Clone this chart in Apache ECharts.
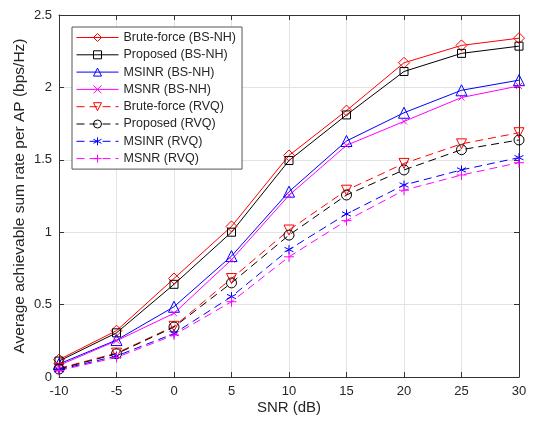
<!DOCTYPE html>
<html>
<head>
<meta charset="utf-8">
<script src="https://cdn.jsdelivr.net/npm/echarts@6/dist/echarts.min.js"></script>
<style>
  html, body { margin: 0; padding: 0; background: #fff; }
  #chart { width: 534px; height: 422px; }
</style>
</head>
<body>
<div id="chart"></div>
<script>
// SNR points (dB)
const snr = [-10, -5, 0, 5, 10, 15, 20, 25, 30];
// sum rate per AP (bps/Hz)
const bruteBS = [0.12, 0.32, 0.68, 1.04, 1.53, 1.84, 2.17, 2.29, 2.34];
const propBS = [0.11, 0.305, 0.64, 1.00, 1.495, 1.81, 2.11, 2.235, 2.285];
const msinrBS = [0.09, 0.255, 0.485, 0.835, 1.28, 1.63, 1.825, 1.98, 2.05];
const msnrBS = [0.08, 0.25, 0.44, 0.81, 1.255, 1.60, 1.765, 1.93, 2.01];
const bruteRVQ = [0.06, 0.165, 0.35, 0.68, 1.015, 1.29, 1.475, 1.61, 1.687];
const propRVQ = [0.055, 0.16, 0.345, 0.65, 0.98, 1.257, 1.43, 1.57, 1.637];
const msinrRVQ = [0.05, 0.145, 0.30, 0.555, 0.88, 1.126, 1.326, 1.43, 1.515];
const msnrRVQ = [0.045, 0.135, 0.29, 0.52, 0.83, 1.08, 1.29, 1.395, 1.48];
const names = [
  'Brute-force (BS-NH)', 'Proposed (BS-NH)', 'MSINR (BS-NH)', 'MSNR (BS-NH)',
  'Brute-force (RVQ)', 'Proposed (RVQ)', 'MSINR (RVQ)', 'MSNR (RVQ)'
];

const xMark = 'path://M0,0L10,10M0,10L10,0';
const plusMark = 'path://M5,0L5,10M0,5L10,5';
const starMark = 'path://M5,0L5,10M0.67,2.5L9.33,7.5M0.67,7.5L9.33,2.5';

const font = 'Liberation Sans, Arial, sans-serif';
const txt = '#262626';
const axCol = '#333';

const chart = echarts.init(document.getElementById('chart'));

// one line series, hollow markers like matlab
const mk = (name, data, color, dashed, symbol, size, rotate) => ({
  name: name,
  type: 'line',
  data: data.map((v, i) => [snr[i], v]),
  symbol: symbol,
  symbolSize: size,
  symbolRotate: rotate || 0,
  showAllSymbol: true,
  clip: false,
  z: 3,
  lineStyle: { color: color, width: 1, type: dashed ? [8, 5] : 'solid' },
  itemStyle: { color: 'transparent', borderColor: color, borderWidth: 1 },
  emphasis: { disabled: true }
});

const series = [
  mk(names[0], bruteBS, '#ff0000', false, 'diamond', 11),
  mk(names[1], propBS, '#000000', false, 'rect', 8),
  mk(names[2], msinrBS, '#0000ff', false, 'triangle', 11),
  mk(names[3], msnrBS, '#ff00ff', false, xMark, 6),
  mk(names[4], bruteRVQ, '#ff0000', true, 'triangle', 10, 180),
  mk(names[5], propRVQ, '#000000', true, 'circle', 10),
  mk(names[6], msinrRVQ, '#0000ff', true, starMark, 9),
  mk(names[7], msnrRVQ, '#ff00ff', true, plusMark, 10)
];

// box axes (top / right) only carry inward ticks
const frame = {
  axisLine: { show: true, onZero: false, lineStyle: { color: axCol, width: 1 } },
  axisTick: { show: true, inside: true, length: 5, lineStyle: { color: axCol } },
  axisLabel: { show: false },
  splitLine: { show: false }
};

const option = {
  animation: false,
  backgroundColor: '#fff',
  grid: { left: 59, right: 15, top: 15, bottom: 45 },
  legend: {
    data: names,
    orient: 'vertical',
    left: 72,
    top: 27,
    padding: [4, 6, 4, 4],
    itemWidth: 42,
    itemHeight: 10,
    itemGap: 4.3,
    backgroundColor: '#fff',
    borderColor: '#555',
    borderWidth: 1,
    lineStyle: { width: 1 },
    itemStyle: { borderWidth: 1 },
    textStyle: { fontFamily: font, fontSize: 12.5, color: txt }
  },
  xAxis: [{
    type: 'value',
    min: -10, max: 30, interval: 5,
    name: 'SNR (dB)',
    nameLocation: 'middle',
    nameGap: 23,
    nameMoveOverlap: false,
    nameTextStyle: { fontFamily: font, fontSize: 15, color: txt },
    axisLine: { show: true, onZero: false, lineStyle: { color: axCol, width: 1 } },
    axisTick: { show: true, inside: true, length: 5, lineStyle: { color: axCol } },
    axisLabel: { fontFamily: font, fontSize: 13, color: txt, margin: 8 },
    splitLine: { show: true, lineStyle: { color: '#e3e3e3', width: 1 } }
  }, Object.assign({
    type: 'value', position: 'top',
    min: -10, max: 30, interval: 5
  }, frame)],
  yAxis: [{
    type: 'value',
    min: 0, max: 2.5, interval: 0.5,
    name: 'Average achievable sum rate per AP (bps/Hz)',
    nameLocation: 'middle',
    nameGap: 31,
    nameMoveOverlap: false,
    nameTextStyle: { fontFamily: font, fontSize: 15.5, color: txt },
    axisLine: { show: true, onZero: false, lineStyle: { color: axCol, width: 1 } },
    axisTick: { show: true, inside: true, length: 5, lineStyle: { color: axCol } },
    axisLabel: { fontFamily: font, fontSize: 13, color: txt, margin: 7 },
    splitLine: { show: true, lineStyle: { color: '#e3e3e3', width: 1 } }
  }, Object.assign({
    type: 'value', position: 'right',
    min: 0, max: 2.5, interval: 0.5
  }, frame)],
  series: series
};

chart.setOption(option);
</script>
</body>
</html>
